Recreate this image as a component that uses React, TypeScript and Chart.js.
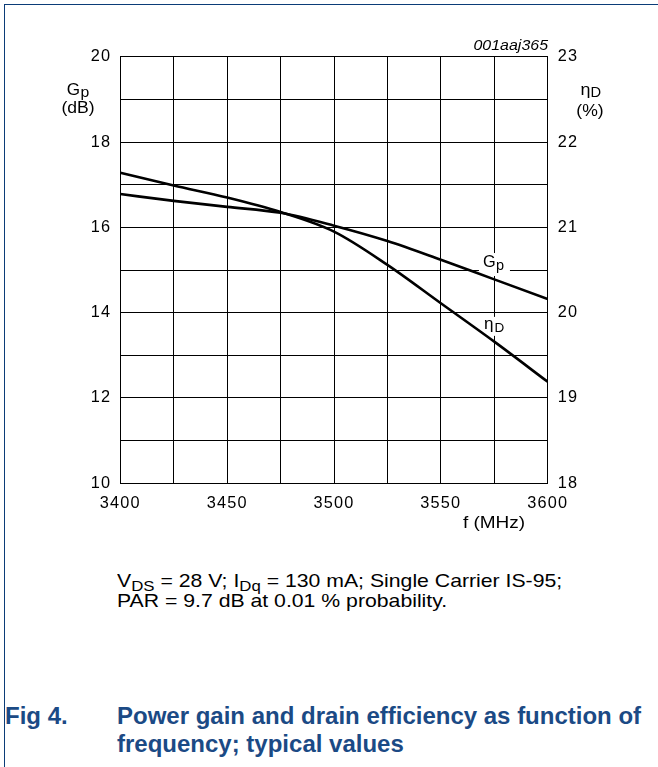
import React, { useEffect, useRef } from "react";
import { Chart, registerables } from "chart.js";

Chart.register(...registerables);

// ---- data ----
const frequencyMHz = [3400, 3425, 3450, 3475, 3500, 3525, 3550, 3575, 3600];
const powerGainDb = [16.78, 16.62, 16.48, 16.34, 16.04, 15.68, 15.24, 14.78, 14.32];
const drainEfficiencyPct = [21.64, 21.49, 21.35, 21.18, 20.95, 20.56, 20.11, 19.66, 19.19];

const xTickLabels = [3400, 3450, 3500, 3550, 3600];
const leftTickLabels = [10, 12, 14, 16, 18, 20];
const rightTickLabels = [18, 19, 20, 21, 22, 23];

const CANVAS_W = 658;
const CANVAS_H = 545;
const FONT = '"Liberation Sans", Arial, Helvetica, sans-serif';
const NAVY = "#1b4a85";

function txt(
  ctx: CanvasRenderingContext2D,
  s: string,
  x: number,
  y: number,
  size: number,
  align: CanvasTextAlign = "left",
  style = "",
  sx = 1.12
) {
  ctx.save();
  ctx.font = `${style} ${size}px ${FONT}`;
  ctx.textAlign = align;
  ctx.textBaseline = "alphabetic";
  ctx.fillStyle = "#000";
  (ctx as any).letterSpacing = "0px";
  ctx.translate(x, y);
  ctx.scale(sx, 1);
  ctx.fillText(s, 0, 0);
  ctx.restore();
}

const annotations = {
  id: "annotations",
  beforeDraw(chart: any) {
    // widen tick lettering slightly, like the reference's stretched type
    (chart.ctx as any).letterSpacing = "1.2px";
  },
  beforeDatasetsDraw(chart: any) {
    const ctx = chart.ctx as CanvasRenderingContext2D;
    const xs = chart.scales.x;
    const ys = chart.scales.y;
    const ys2 = chart.scales.y2;
    // Gp curve label
    {
      const x = xs.getPixelForValue(3569.7);
      const y = ys.getPixelForValue(15.07);
      ctx.save();
      ctx.fillStyle = "#fff";
      ctx.fillRect(x - 4, y - 14, 31, 23);
      ctx.restore();
      txt(ctx, "G", x, y, 16.3, "left", "", 1.0);
      txt(ctx, "p", x + 13, y + 3, 14.5, "left", "", 1.0);
    }
    // ηD curve label
    {
      const x = xs.getPixelForValue(3570.2);
      const y = ys2.getPixelForValue(19.81);
      ctx.save();
      ctx.fillStyle = "#fff";
      ctx.fillRect(x - 3, y - 12, 27, 19);
      ctx.restore();
      txt(ctx, "η", x, y, 16.3, "left", "", 1.05);
      txt(ctx, "D", x + 10.5, y + 3, 13.5, "left", "", 1.0);
    }
  },
  afterDraw(chart: any) {
    const ctx = chart.ctx as CanvasRenderingContext2D;
    // left axis title
    txt(ctx, "G", 66.7, 95, 16.3, "left", "", 1.05);
    txt(ctx, "p", 80.5, 96.5, 15, "left", "", 1.05);
    txt(ctx, "(dB)", 78, 113, 16.3, "center", "", 1.08);
    // right axis title
    txt(ctx, "η", 580.5, 95, 16.3, "left", "", 1.1);
    txt(ctx, "D", 590.5, 97, 14, "left", "", 1.05);
    txt(ctx, "(%)", 590, 116, 16.3, "center", "", 1.08);
    // figure id
    txt(ctx, "001aaj365", 548, 49.5, 14.5, "right", "italic", 1.1);
    // x axis title
    txt(ctx, "f (MHz)", 494, 527.5, 16.5, "center", "", 1.15);
  },
};

export default function App() {
  const canvasRef = useRef<HTMLCanvasElement | null>(null);

  useEffect(() => {
    if (!canvasRef.current) return;
    const tickFont = { family: FONT, size: 16.3 };
    const chart = new Chart(canvasRef.current, {
      type: "line",
      data: {
        datasets: [
          {
            label: "Gp",
            data: frequencyMHz.map((f, i) => ({ x: f, y: powerGainDb[i] })),
            yAxisID: "y",
            borderColor: "#000",
            borderWidth: 2.6,
            pointRadius: 0,
            tension: 0.4,
            cubicInterpolationMode: "monotone",
          },
          {
            label: "ηD",
            data: frequencyMHz.map((f, i) => ({ x: f, y: drainEfficiencyPct[i] })),
            yAxisID: "y2",
            borderColor: "#000",
            borderWidth: 2.6,
            pointRadius: 0,
            tension: 0.4,
            cubicInterpolationMode: "monotone",
          },
        ],
      },
      options: {
        responsive: false,
        animation: false,
        events: [],
        layout: { padding: { top: 56.7, left: 0, right: 0, bottom: 0 } },
        plugins: { legend: { display: false }, tooltip: { enabled: false } },
        scales: {
          x: {
            type: "linear",
            min: 3400,
            max: 3600,
            afterFit: (s: any) => {
              s.height = CANVAS_H - 483.3;
            },
            ticks: {
              stepSize: 25,
              autoSkip: false,
              maxRotation: 0,
              padding: 10,
              color: "#000",
              font: tickFont,
              callback: (v: any) => (xTickLabels.includes(Number(v)) ? String(v) : ""),
            },
            grid: { color: "#000", lineWidth: 1, drawTicks: false },
            border: { display: true, color: "#000", width: 1 },
          },
          y: {
            type: "linear",
            position: "left",
            min: 10,
            max: 20,
            afterFit: (s: any) => {
              s.width = 120.3;
            },
            ticks: {
              stepSize: 1,
              autoSkip: false,
              padding: 9,
              color: "#000",
              font: tickFont,
              callback: (v: any) => (leftTickLabels.includes(Number(v)) ? String(v) : ""),
            },
            grid: { color: "#000", lineWidth: 1, drawTicks: false },
            border: { display: true, color: "#000", width: 1 },
          },
          y2: {
            type: "linear",
            position: "right",
            min: 18,
            max: 23,
            afterFit: (s: any) => {
              s.width = CANVAS_W - 547.7;
            },
            ticks: {
              stepSize: 0.5,
              autoSkip: false,
              padding: 10,
              color: "#000",
              font: tickFont,
              callback: (v: any) => (rightTickLabels.includes(Number(v)) ? String(v) : ""),
            },
            grid: { display: false, drawTicks: false },
            border: { display: true, color: "#000", width: 1 },
          },
        },
      } as any,
      plugins: [annotations],
    });
    return () => chart.destroy();
  }, []);

  const subStyle: React.CSSProperties = { fontSize: 14, position: "relative", top: 4 };
  const noteStyle: React.CSSProperties = {
    position: "absolute",
    left: 116.7,
    fontFamily: FONT,
    fontSize: 17.7,
    lineHeight: "20px",
    whiteSpace: "nowrap",
    color: "#000",
    transform: "scaleX(1.2)",
    transformOrigin: "0 0",
  };
  const capStyle: React.CSSProperties = {
    position: "absolute",
    fontFamily: FONT,
    fontWeight: "bold",
    fontSize: 24,
    lineHeight: "28px",
    whiteSpace: "nowrap",
    color: NAVY,
  };

  return (
    <div
      style={{
        position: "absolute",
        left: 0,
        top: 0,
        width: CANVAS_W,
        height: 767,
        background: "#fff",
        overflow: "hidden",
      }}
    >
      <div
        style={{
          position: "absolute",
          left: 4,
          top: 4,
          right: 0,
          bottom: 0,
          borderLeft: "1.5px solid #0b3c78",
          borderTop: "1.5px solid #0b3c78",
        }}
      />
      <canvas
        ref={canvasRef}
        width={CANVAS_W}
        height={CANVAS_H}
        style={{ position: "absolute", left: 0, top: 0, width: CANVAS_W, height: CANVAS_H }}
      />
      <div style={{ ...noteStyle, top: 570.5 }}>
        V<span style={subStyle}>DS</span> = 28 V; I<span style={subStyle}>Dq</span> = 130 mA; Single Carrier
        IS-95;
      </div>
      <div style={{ ...noteStyle, top: 590.5 }}>PAR = 9.7 dB at 0.01 % probability.</div>
      <div style={{ ...capStyle, left: 5, top: 701.7 }}>Fig 4.</div>
      <div style={{ ...capStyle, left: 117, top: 701.7 }}>Power gain and drain efficiency as function of</div>
      <div style={{ ...capStyle, left: 117, top: 729.7 }}>frequency; typical values</div>
    </div>
  );
}
